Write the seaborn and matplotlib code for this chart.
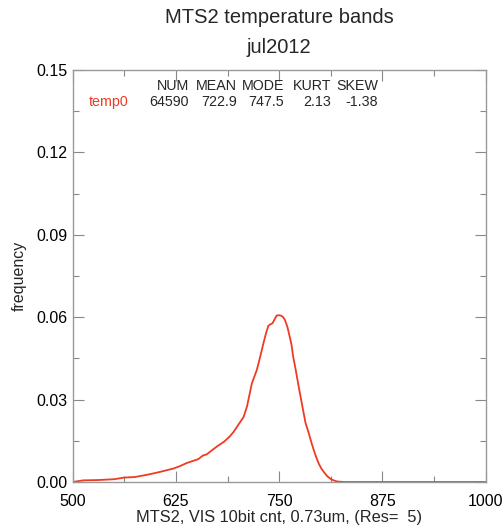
import numpy as np
import pandas as pd
import matplotlib
matplotlib.use("Agg")
import matplotlib.pyplot as plt
import seaborn as sns
from matplotlib.ticker import MultipleLocator

# data
x_vals = [500, 513, 530, 550, 562, 575, 586, 596, 606, 614, 622, 630, 638, 646, 652, 658,
          662, 668, 675, 683, 690, 695, 701, 707, 711, 717, 723, 727, 731, 734, 737, 740,
          742, 745, 747, 750, 752, 755, 757, 760, 762, 765, 767, 770, 773, 776, 779, 782,
          786, 789, 792, 795, 798, 801, 804, 808, 812, 816, 820, 828, 850, 900, 1000]
freq = [0.0000, 0.0006, 0.0007, 0.0010, 0.0016, 0.0018, 0.0024, 0.0030, 0.0037, 0.0043,
        0.0049, 0.0058, 0.0069, 0.0077, 0.0083, 0.0097, 0.0100, 0.0114, 0.0130, 0.0146,
        0.0165, 0.0183, 0.0210, 0.0237, 0.0274, 0.0359, 0.0408, 0.0455, 0.0505, 0.0540,
        0.0569, 0.0575, 0.0578, 0.0595, 0.0606, 0.0607, 0.0606, 0.0600, 0.0590, 0.0565,
        0.0540, 0.0500, 0.0457, 0.0410, 0.0359, 0.0310, 0.0262, 0.0215, 0.0177, 0.0145,
        0.0116, 0.0090, 0.0067, 0.0050, 0.0037, 0.0022, 0.0012, 0.0006, 0.0002, 0.0000,
        0.0000, 0.0000, 0.0000]

stat_names = ["NUM", "MEAN", "MODE", "KURT", "SKEW"]
stat_values = ["64590", "722.9", "747.5", "2.13", "-1.38"]
series_name = "temp0"
x_ticks = [500, 625, 750, 875, 1000]
y_ticks = [0.00, 0.03, 0.06, 0.09, 0.12, 0.15]

sns.set_theme(style="white")
plt.rcParams['font.family'] = ['Liberation Sans', 'DejaVu Sans']

fig = plt.figure(figsize=(5.04, 5.27), dpi=100)
ax = fig.add_axes([0.1443, 0.0854, 0.9633 - 0.1443, 0.8672 - 0.0854])

df = pd.DataFrame({"x": x_vals, "freq": freq})
line_color = "#EE3B22"
sns.lineplot(data=df, x="x", y="freq", ax=ax, color=line_color, linewidth=1.3)

ax.set_xlim(500, 1000)
ax.set_ylim(0, 0.15)
ax.set_xticks(x_ticks)
ax.set_xticklabels([str(t) for t in x_ticks])
ax.set_yticks(y_ticks)
ax.set_yticklabels([f"{t:.2f}" for t in y_ticks])
ax.xaxis.set_minor_locator(MultipleLocator(62.5))
ax.yaxis.set_minor_locator(MultipleLocator(0.015))
ax.tick_params(which="both", direction="in", top=True, right=True, bottom=True, left=True,
               color="#888888", width=0.8, labelsize=11.5, labelcolor="black")
ax.tick_params(which="major", length=8)
ax.tick_params(which="minor", length=4)
ax.tick_params(axis="x", which="major", pad=9)
ax.tick_params(axis="y", which="major", pad=4)
for s in ax.spines.values():
    s.set_color("#999999")
    s.set_linewidth(1.0)

ax.set_xlabel("MTS2, VIS 10bit cnt, 0.73um, (Res=  5)", fontsize=11.8, labelpad=0.5)
ax.set_ylabel("frequency", fontsize=11.5, labelpad=7)

fig.text(0.554, 0.967, "MTS2 temperature bands", ha="center", va="center", fontsize=14.5)
fig.text(0.554, 0.910, "jul2012", ha="center", va="center", fontsize=14.5)

# stats table (right-aligned columns)
col_x = [189, 237, 284, 331, 378]
for cx, name, val in zip(col_x, stat_names, stat_values):
    fig.text(cx / 504, 1 - 86 / 527, name, ha="right", va="center", fontsize=10.3)
    fig.text(cx / 504, 1 - 102 / 527, val, ha="right", va="center", fontsize=10.3)
fig.text(89 / 504, 1 - 102 / 527, series_name, ha="left", va="center", fontsize=10.3,
         color=line_color)

fig.savefig("out.png", dpi=100)
